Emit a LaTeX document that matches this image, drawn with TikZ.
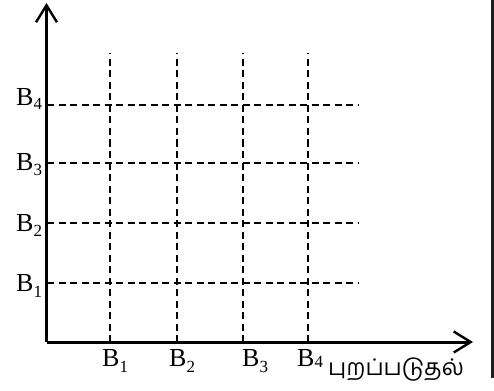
\documentclass[tikz,border=0pt]{standalone}
\usepackage{fontspec}
\setmainfont{Liberation Serif}
\newfontfamily\tamilfont[Script=Tamil]{Hind Madurai}
\usetikzlibrary{arrows.meta}
\newcommand{\Bl}[2]{B\raisebox{#2}{\fontsize{17}{17}\selectfont #1}}
\begin{document}
\begin{tikzpicture}[x=1pt,y=-1pt,
  axis/.style={line width=3pt,-{Straight Barb[length=17pt,width=21pt,line width=2.4pt]}},
  grid/.style={line width=1.8pt,dash pattern=on 7pt off 4.5pt},
  lab/.style={anchor=base west,inner sep=0pt,font=\fontsize{26}{26}\selectfont},
  tam/.style={anchor=base west,inner sep=0pt,font=\tamilfont\fontsize{23}{23}\selectfont}]
\useasboundingbox (0,0) rectangle (494,390);
\fill[black!88] (491,0) rectangle (494,378);
% axes
\coordinate (O) at (46.5,342);
\coordinate (Ytip) at (46.5,3);
\coordinate (Xtip) at (473,342);
\draw[axis] (O) -- (Ytip);
\draw[axis] (O) -- (Xtip);
% vertical dashed lines
\foreach \i/\x in {1/110,2/176.7,3/243.3,4/308.3}{
  \coordinate (vt\i) at (\x,53);
  \coordinate (vb\i) at (\x,342);
  \draw[grid] (vb\i) -- (vt\i);
}
% horizontal dashed lines
\foreach \i/\y in {1/283.3,2/223.3,3/162.7,4/105}{
  \coordinate (hl\i) at (47,\y);
  \coordinate (hr\i) at (358,\y);
  \draw[grid] (hl\i) -- (hr\i);
}
% left labels
\node[lab] (yl4) at (16,106) {\Bl{4}{-4pt}};
\node[lab] (yl3) at (16,170) {\Bl{3}{-5pt}};
\node[lab] (yl2) at (16,231) {\Bl{2}{-5pt}};
\node[lab] (yl1) at (16,291) {\Bl{1}{-6pt}};
% bottom labels
\node[lab] (xl1) at (102,366) {\Bl{1}{-6pt}};
\node[lab] (xl2) at (169,366) {\Bl{2}{-6pt}};
\node[lab] (xl3) at (242,366) {\Bl{3}{-6pt}};
\node[lab] (xl4) at (297,366) {\Bl{4}{-1pt}};
\node[tam] (xt) at (328,375) {புறப்படுதல்};
\end{tikzpicture}
\end{document}
